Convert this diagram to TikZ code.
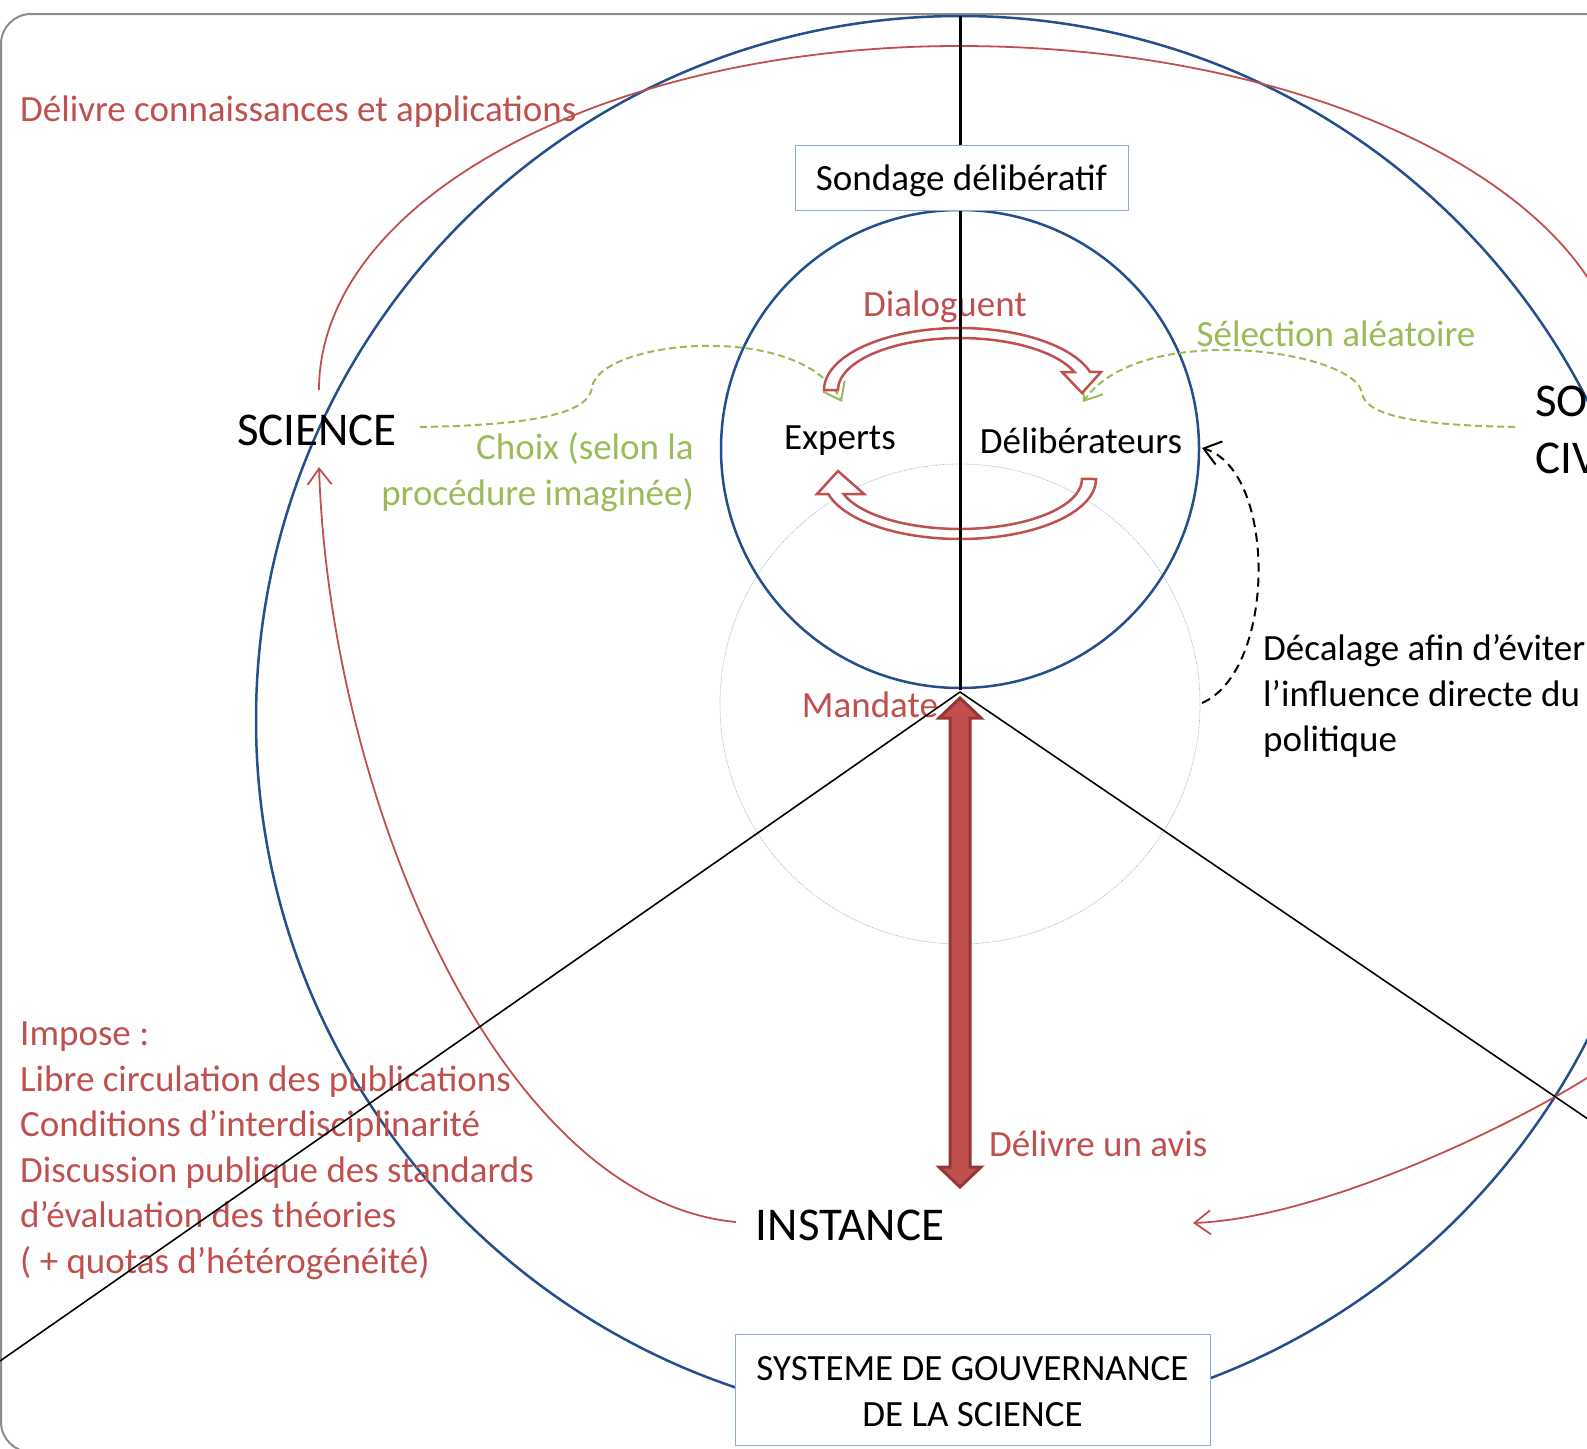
\documentclass[tikz,border=0pt]{standalone}
\usepackage{fontspec}
\setmainfont{Carlito}
\usetikzlibrary{arrows.meta}

\definecolor{ppred}{RGB}{192,80,77}
\definecolor{ppdark}{RGB}{150,54,52}
\definecolor{ppgreen}{RGB}{155,187,89}
\definecolor{ppblue}{RGB}{37,79,140}
\definecolor{boxblue}{RGB}{142,170,219}
\definecolor{dotblue}{RGB}{166,184,214}

\tikzset{
	txt/.style={inner sep=0pt, font=\fontsize{37}{45.5}\selectfont},
	bigtxt/.style={inner sep=0pt, font=\fontsize{47}{57}\selectfont},
	redtxt/.style={txt, text=ppred},
	greentxt/.style={txt, text=ppgreen},
	openarr/.style={-{Straight Barb[length=16pt,width=24pt]}},
	bluering/.style={draw=ppblue, line width=2.5pt},
	labelbox/.style={draw=boxblue, line width=1pt, fill=white, inner sep=0pt, align=center},
	bandarr/.style={draw=ppred, line width=2.5pt, fill=white, line join=miter},
}

\begin{document}
\begin{tikzpicture}[x=1pt, y=-1pt]

	\useasboundingbox (0,0) rectangle (1587,1448);
	\clip (0,0) rectangle (1587,1448);

	% frame
	\draw[gray!90, line width=2pt, rounded corners=30pt] (1,14) rectangle (1750,1452);

	% circles
	\draw[dotblue, line width=0.8pt, densely dotted] (960,704) circle[radius=240];
	\draw[bluering] (960,720) circle[radius=704];
	\draw[bluering] (960,449) circle[radius=239];

	% nodes
	\node[bigtxt] (science) at (317,430) {SCIENCE};
	\node[bigtxt] (instance) at (850,1225) {INSTANCE};
	\node[bigtxt, anchor=west, align=left] (societe) at (1535,430) {SOCIETE\\[0pt]CIVILE};
	\node[txt] (experts) at (840,441) {Experts};
	\node[txt] (delib) at (1081,441) {Délibérateurs};
	\node[redtxt] (dialog) at (945,307) {Dialoguent};
	\node[greentxt] (selection) at (1336,334) {Sélection aléatoire};
	\node[greentxt, anchor=east, align=right] (choix) at (694,472) {Choix (selon la\\procédure imaginée)};
	\node[redtxt, anchor=west] (connaiss) at (20,112) {Délivre connaissances et applications};
	\node[txt, anchor=west, align=left] (decalage) at (1263,696) {Décalage afin d’éviter\\l’influence directe du\\politique};
	\node[redtxt] (mandate) at (870,705) {Mandate};
	\node[redtxt, anchor=west] (avis) at (989,1144) {Délivre un avis};
	\node[redtxt, anchor=west, align=left] (impose) at (20,1151) {Impose :\\Libre circulation des publications\\Conditions d’interdisciplinarité\\Discussion publique des standards\\d’évaluation des théories\\( + quotas d’hétérogénéité)};

	% connector ends
	\coordinate (sciTop) at (319,390);
	\coordinate (sciBot) at (319,467);
	\coordinate (instLeft) at (736,1222);
	\coordinate (instRight) at (1193,1223);
	\coordinate (sciEast) at (420,427);
	\coordinate (socWest) at (1515,427);
	\coordinate (expTop) at (842,402);
	\coordinate (delTop) at (1083,402);
	\coordinate (delEast) at (1202,448);
	\coordinate (decStart) at (1202,703);
	\coordinate (apex) at (960,692);

	% red curves
	\draw[ppred, line width=1.8pt, openarr] (sciTop)
		arc[start angle=180, end angle=270, x radius=640, y radius=344]
		arc[start angle=270, end angle=360, x radius=665, y radius=344]
		.. controls (1624,750) and (1667,1028) .. (1587,1078)
		.. controls (1507,1128) and (1320,1218) .. (instRight);
	\draw[ppred, line width=1.8pt, openarr] (instLeft) .. controls (500,1200) and (330,800) .. (sciBot);

	% green dashed
	\draw[ppgreen, line width=2pt, dash pattern=on 7pt off 4pt, openarr] (sciEast)
		.. controls (540,425) and (590,412) .. (592,387)
		.. controls (600,340) and (800,320) .. (expTop);
	\draw[ppgreen, line width=2pt, dash pattern=on 7pt off 4pt, openarr] (socWest)
		.. controls (1400,425) and (1365,412) .. (1362,393)
		.. controls (1355,350) and (1140,320) .. (delTop);

	% black dashed
	\draw[black, line width=2pt, dash pattern=on 9pt off 6pt, openarr] (decStart)
		.. controls (1277,670) and (1277,470) .. (delEast);

	% V lines
	\draw[black, line width=1.6pt] (0,1361) -- (apex) -- (1610,1134);

	% dialogue arrows
	\draw[bandarr] (824,390) arc[start angle=180, end angle=343.1, x radius=136, y radius=62]
		-- (1101,372) -- (1082,393) -- (1062,372) -- (1074.4,372)
		arc[start angle=339.7, end angle=180, x radius=122, y radius=52] -- cycle;
	\draw[bandarr] (1096,479) arc[start angle=0, end angle=165.5, x radius=136, y radius=60]
		-- (817,494) -- (838,471) -- (864,494) -- (843.6,494)
		arc[start angle=162.5, end angle=0, x radius=122, y radius=50] -- cycle;

	% vertical axis
	\draw[black, line width=3pt] (960,16) -- (960,690);

	% boxes
	\node[labelbox, txt, minimum width=333pt, minimum height=65pt, text height=26pt, text depth=0pt] (sondage) at (961.5,177.5) {Sondage délibératif};
	\node[labelbox, txt, minimum width=475pt, minimum height=111pt, text height=74pt] (systeme) at (972.5,1389.5) {SYSTEME DE GOUVERNANCE\\DE LA SCIENCE};

	% mandate / avis arrow
	\draw[ppdark, fill=ppred, line width=3pt, line join=miter] (960,698) -- (981,718) -- (970,718) -- (970,1167) -- (981,1167)
		-- (960,1187) -- (939,1167) -- (950,1167) -- (950,718) -- (939,718) -- cycle;

\end{tikzpicture}
\end{document}
